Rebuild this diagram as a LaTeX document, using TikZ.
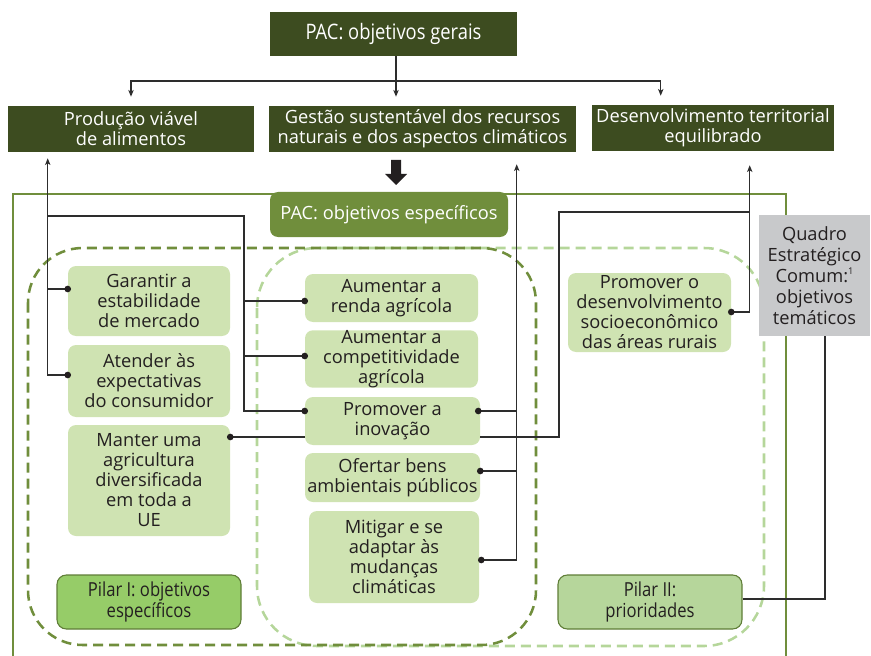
\documentclass[tikz,border=0pt]{standalone}
\usepackage{fontspec}
\setmainfont{Open Sans}
\newfontfamily\condf[FakeStretch=0.86]{Open Sans}
\usetikzlibrary{calc,arrows.meta}
\definecolor{cDark}{RGB}{61,76,32}
\definecolor{cMid}{RGB}{112,142,60}
\definecolor{cLight}{RGB}{207,227,178}
\definecolor{cPilA}{RGB}{150,204,104}
\definecolor{cPilB}{RGB}{182,214,155}
\definecolor{cPilBorder}{RGB}{95,125,55}
\definecolor{cDashL}{RGB}{181,214,154}
\definecolor{cGray}{RGB}{200,201,203}
\definecolor{cText}{RGB}{35,31,32}
\definecolor{cLine}{RGB}{45,45,45}
\begin{document}
\begin{tikzpicture}[x=0.75pt,y=-0.75pt,
  sz/.style 2 args={minimum width=#1*0.75pt, minimum height=#2*0.75pt},
  txt/.style={font=\fontsize{13.7}{15}\selectfont, align=center, inner sep=0pt},
  darkbox/.style={txt, fill=cDark, text=white},
  lbox/.style={txt, fill=cLight, text=cText, rounded corners=6pt},
  pil/.style={inner sep=0pt, align=center, text=cText, draw=cPilBorder, line width=0.8pt, rounded corners=7pt,
     font=\condf\fontsize{14.5}{15.5}\selectfont},
  conn/.style={draw=cLine, line width=0.85pt},
  arr/.style={-{Stealth[length=5pt,width=4pt,inset=1.2pt]}},
  dotc/.style={fill=cText}
]
\useasboundingbox (0,0) rectangle (871,656);
\clip (0,0) rectangle (871,656);

% outer frame and dashed groups
\draw[cMid, line width=1.5pt] (13,194) rectangle (786,700);
\draw[cDashL, line width=1.9pt, dash pattern=on 7.5pt off 4.5pt, rounded corners=45pt] (257,248) rectangle (764,646);
\draw[cMid, line width=1.9pt, dash pattern=on 7.5pt off 4.5pt, rounded corners=41pt] (28,248) rectangle (536,645);

% top boxes
\node[darkbox, sz={247}{44}, font=\condf\fontsize{16}{17}\selectfont] (gerais) at (393.5,34) {PAC: objetivos gerais};
\node[darkbox, sz={246}{46}] (prod) at (131,129) {Produção viável\\de alimentos};
\node[darkbox, sz={307}{46}] (gest) at (422.5,129) {Gestão sustentável dos recursos\\naturais e dos aspectos climáticos};
\node[darkbox, sz={242}{46}] (desen) at (713,128) {Desenvolvimento territorial\\equilibrado};

\coordinate (hub) at (396,81);
\draw[conn] (gerais.south -| hub) -- (hub);
\draw[conn, arr, shorten >=6.75pt] (hub) -| (prod.north);
\draw[conn, arr, shorten >=6.75pt] (hub) -- (gest.north -| hub);
\draw[conn, arr, shorten >=6.75pt] (hub) -| ($(desen.north west)+(69,0)$);

% block arrow
\fill[cText] (391,160) -- (401,160) -- (401,174) -- (407,174) -- (396,185) -- (385,174) -- (391,174) -- cycle;

% mid boxes
\node[txt, sz={238}{45}, fill=cMid, text=white, rounded corners=6pt] (pacesp) at (389,214.5) {PAC: objetivos específicos};
\node[txt, sz={111}{121}, fill=cGray, text=cText, font=\fontsize{13.7}{15.75}\selectfont] (quadro) at (814.5,275.5)
  {Quadro\\Estratégico\\Comum:\raisebox{0.45em}{\fontsize{7}{7}\selectfont 1}\\objetivos\\temáticos};

\node[lbox, sz={162}{70}] (gar) at (149,301) {Garantir a\\estabilidade\\de mercado};
\node[lbox, sz={162}{72}] (ate) at (149,381) {Atender às\\expectativas\\do consumidor};
\node[lbox, sz={162}{111}] (man) at (149,480.5) {Manter uma\\agricultura\\diversificada\\em toda a\\UE};
\node[lbox, sz={173}{48}] (ren) at (391.5,298) {Aumentar a\\renda agrícola};
\node[lbox, sz={173}{56}] (com) at (391.5,359) {Aumentar a\\competitividade\\agrícola};
\node[lbox, sz={175}{48}] (ino) at (392.5,421) {Promover a\\inovação};
\node[lbox, sz={175}{49}] (ofe) at (392.5,477.5) {Ofertar bens\\ambientais públicos};
\node[lbox, sz={170}{92}] (mit) at (394,557) {Mitigar e se\\adaptar às\\mudanças\\climáticas};
\node[lbox, sz={163}{79}] (des) at (649.5,312.5) {Promover o\\desenvolvimento\\socioeconômico\\das áreas rurais};
\node[pil, sz={184}{54}, fill=cPilA] (pil1) at (149,602) {Pilar I: objetivos\\específicos};
\node[pil, sz={184}{54}, fill=cPilB] (pil2) at (650,602) {Pilar II:\\prioridades};

% connection points
\coordinate (garL) at ($(gar.west)+(0,-12)$);
\coordinate (ateL) at ($(ate.west)+(0,-6)$);
\coordinate (renL) at ($(ren.west)+(0,3)$);
\coordinate (comL) at ($(com.west)+(0,-3)$);
\coordinate (inoL) at ($(ino.west)+(0,-10)$);
\coordinate (inoLe) at ($(ino.west)+(0,16)$);
\coordinate (inoR) at ($(ino.east)+(-2,-10)$);
\coordinate (inoRe) at ($(ino.east)+(0,16)$);
\coordinate (ofeR) at ($(ofe.east)+(0,-6.5)$);
\coordinate (mitR) at ($(mit.east)+(2,3)$);
\coordinate (manR) at ($(man.east)+(0,-43.5)$);
\coordinate (desR) at ($(des.east)+(0,-0.5)$);
\coordinate (pA) at ($(prod.south west)+(40,0)$);
\coordinate (gB) at ($(gest.south west)+(248,0)$);
\coordinate (dB) at ($(desen.south west)+(158,0)$);
\coordinate (t1) at (244,216);
\coordinate (t3) at (559,212);
\coordinate (qB) at ($(quadro.south)+(10.5,0)$);
\coordinate (p2R) at ($(pil2.east)+(0,-3)$);

% left trunk
\draw[conn, arr, shorten >=4.5pt] (ateL) -| (pA);
\draw[conn] (garL) -- (garL -| pA);
\draw[conn] (pA |- t1) -- (t1) |- (inoL);
\draw[conn] (t1 |- renL) -- (renL);
\draw[conn] (t1 |- comL) -- (comL);
\draw[conn] (manR) -- (inoLe);

% middle trunk
\draw[conn, arr, shorten >=9pt] (mitR) -| (gB);
\draw[conn] (inoR) -- (inoR -| gB);
\draw[conn] (ofeR) -- (ofeR -| gB);

% right trunk
\draw[conn, arr, shorten >=10.5pt] (desR) -| (dB);
\draw[conn] (inoRe) -| (t3) -- (t3 -| dB);

% quadro
\draw[conn] (qB) |- (p2R);

% dots
\foreach \p in {garL, ateL, renL, comL, inoL, inoR, ofeR, mitR, manR, desR}
  \fill[dotc] (\p) circle[radius=2.5pt];
\end{tikzpicture}
\end{document}
